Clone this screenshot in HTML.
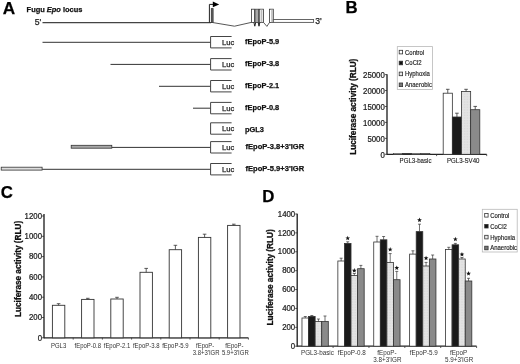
<!DOCTYPE html>
<html><head><meta charset="utf-8"><style>
html,body{margin:0;padding:0;background:#fff;}
body{width:520px;height:364px;overflow:hidden;}
svg{display:block;font-family:"Liberation Sans", sans-serif;will-change:transform;filter:blur(0.3px);}
</style></head><body>
<svg width="520" height="364" viewBox="0 0 520 364">
<defs><pattern id="dots" width="1.6" height="1.6" patternUnits="userSpaceOnUse"><rect width="1.6" height="1.6" fill="#e4e4e4"/><rect width="0.8" height="0.8" fill="#d8d8d8"/></pattern></defs>
<rect width="520" height="364" fill="#fff"/>
<text x="2.80" y="13.80" font-size="17.2" font-weight="bold" text-anchor="start" fill="#000"  stroke="#000" stroke-width="0.25">A</text>
<text x="26.6" y="12.4" font-size="7.45" font-weight="bold" fill="#111" stroke="#111" stroke-width="0.25">Fugu <tspan font-style="italic">Epo</tspan> locus</text>
<text x="34.80" y="25.30" font-size="8.6" text-anchor="start" fill="#222"  stroke="#222" stroke-width="0.25">5&#39;</text>
<line x1="42.5" y1="22.6" x2="211" y2="22.6" stroke="#444" stroke-width="1.2"/>
<polyline points="209.4,22.6 209.4,4.4 213.5,4.4" fill="none" stroke="#222" stroke-width="1"/>
<polygon points="212.8,1.4 219.2,4.4 212.8,7.3" fill="#000"/>
<rect x="211.3" y="8.6" width="1.8" height="14" fill="#666" stroke="#333" stroke-width="0.8"/>
<polyline points="213,22.6 234.5,26.2 251.3,22.4" fill="none" stroke="#444" stroke-width="0.9"/>
<rect x="251.4" y="9.2" width="3.0" height="13.4" fill="#fff" stroke="#333" stroke-width="0.8"/>
<rect x="255.0" y="9.2" width="3.6" height="13.4" fill="#a8a8a8" stroke="#444" stroke-width="0.8"/>
<rect x="259.3" y="9.2" width="4.2" height="13.4" fill="#fff" stroke="#333" stroke-width="0.8"/>
<rect x="260.6" y="9.6" width="1.8" height="12.6" fill="#bbb" stroke="none" stroke-width="0"/>
<polyline points="253.9,22.4 254.8,26.2 255.7,22.4" fill="none" stroke="#222" stroke-width="1"/>
<polyline points="258.2,22.4 259.0,26.2 259.8,22.4" fill="none" stroke="#222" stroke-width="1"/>
<polyline points="263.5,22.4 266.9,26.4 269.4,22.6" fill="none" stroke="#333" stroke-width="0.8"/>
<rect x="269.4" y="9.2" width="3.9" height="13.4" fill="#fff" stroke="#333" stroke-width="0.8"/>
<rect x="271.2" y="9.6" width="1.6" height="12.6" fill="#bbb" stroke="none" stroke-width="0"/>
<rect x="273.3" y="19.5" width="40.3" height="2.9" fill="#fff" stroke="#555" stroke-width="0.9"/>
<text x="315.20" y="24.40" font-size="8.6" text-anchor="start" fill="#222"  stroke="#222" stroke-width="0.25">3&#39;</text>
<line x1="42.5" y1="42.3" x2="210.6" y2="42.3" stroke="#333" stroke-width="1.0"/>
<polyline points="231.6,36.5 210.6,36.5 210.6,47.9 231.6,47.9" fill="none" stroke="#444" stroke-width="1"/>
<text x="222.00" y="44.80" font-size="7.6" text-anchor="start" fill="#222"  stroke="#222" stroke-width="0.25">Luc</text>
<text x="245.10" y="43.70" font-size="7.4" font-weight="bold" text-anchor="start" fill="#111"  stroke="#111" stroke-width="0.25">fEpoP-5.9</text>
<line x1="110.5" y1="64.4" x2="210.6" y2="64.4" stroke="#333" stroke-width="1.0"/>
<polyline points="231.6,58.6 210.6,58.6 210.6,70.0 231.6,70.0" fill="none" stroke="#444" stroke-width="1"/>
<text x="222.00" y="66.90" font-size="7.6" text-anchor="start" fill="#222"  stroke="#222" stroke-width="0.25">Luc</text>
<text x="245.10" y="65.80" font-size="7.4" font-weight="bold" text-anchor="start" fill="#111"  stroke="#111" stroke-width="0.25">fEpoP-3.8</text>
<line x1="159" y1="86.3" x2="210.6" y2="86.3" stroke="#333" stroke-width="1.0"/>
<polyline points="231.6,80.5 210.6,80.5 210.6,91.9 231.6,91.9" fill="none" stroke="#444" stroke-width="1"/>
<text x="222.00" y="88.80" font-size="7.6" text-anchor="start" fill="#222"  stroke="#222" stroke-width="0.25">Luc</text>
<text x="245.10" y="87.70" font-size="7.4" font-weight="bold" text-anchor="start" fill="#111"  stroke="#111" stroke-width="0.25">fEpoP-2.1</text>
<line x1="193" y1="108.2" x2="210.6" y2="108.2" stroke="#333" stroke-width="1.0"/>
<polyline points="231.6,102.4 210.6,102.4 210.6,113.8 231.6,113.8" fill="none" stroke="#444" stroke-width="1"/>
<text x="222.00" y="110.70" font-size="7.6" text-anchor="start" fill="#222"  stroke="#222" stroke-width="0.25">Luc</text>
<text x="245.10" y="109.60" font-size="7.4" font-weight="bold" text-anchor="start" fill="#111"  stroke="#111" stroke-width="0.25">fEpoP-0.8</text>
<polyline points="231.6,122.8 210.6,122.8 210.6,134.2 231.6,134.2" fill="none" stroke="#444" stroke-width="1"/>
<text x="222.00" y="131.10" font-size="7.6" text-anchor="start" fill="#222"  stroke="#222" stroke-width="0.25">Luc</text>
<text x="245.00" y="131.90" font-size="7.4" font-weight="bold" text-anchor="start" fill="#111"  stroke="#111" stroke-width="0.25">pGL3</text>
<line x1="111.8" y1="147.4" x2="210.6" y2="147.4" stroke="#333" stroke-width="1.0"/>
<polyline points="231.6,141.6 210.6,141.6 210.6,153.0 231.6,153.0" fill="none" stroke="#444" stroke-width="1"/>
<text x="222.00" y="149.90" font-size="7.6" text-anchor="start" fill="#222"  stroke="#222" stroke-width="0.25">Luc</text>
<text x="245.50" y="148.80" font-size="7.55" font-weight="bold" text-anchor="start" fill="#111"  stroke="#111" stroke-width="0.25">fEpoP-3.8+3&#39;IGR</text>
<rect x="71.2" y="145.3" width="40.599999999999994" height="2.9" fill="#a8a8a8" stroke="#333" stroke-width="0.8"/>
<line x1="42.1" y1="169.3" x2="210.6" y2="169.3" stroke="#333" stroke-width="1.0"/>
<polyline points="231.6,163.5 210.6,163.5 210.6,174.9 231.6,174.9" fill="none" stroke="#444" stroke-width="1"/>
<text x="222.00" y="171.80" font-size="7.6" text-anchor="start" fill="#222"  stroke="#222" stroke-width="0.25">Luc</text>
<text x="245.50" y="170.70" font-size="7.55" font-weight="bold" text-anchor="start" fill="#111"  stroke="#111" stroke-width="0.25">fEpoP-5.9+3&#39;IGR</text>
<rect x="1.2" y="167.20000000000002" width="40.9" height="2.9" fill="#ddd" stroke="#333" stroke-width="0.8"/>
<text x="345.60" y="13.40" font-size="16.8" font-weight="bold" text-anchor="start" fill="#000"  stroke="#000" stroke-width="0.25">B</text>
<rect x="397.3" y="46.6" width="35.2" height="42.8" fill="#fff" stroke="#b8b8b8" stroke-width="0.8"/>
<rect x="399.20000000000005" y="50.300000000000004" width="3.4" height="3.6" fill="#fff" stroke="#333" stroke-width="0.8"/>
<g transform="translate(405.00,54.50) scale(0.92,1)"><text x="0" y="0" font-size="6.5" text-anchor="start" fill="#222"  stroke="#222" stroke-width="0.15">Control</text></g>
<rect x="399.20000000000005" y="61.2" width="3.4" height="3.6" fill="#111" stroke="#333" stroke-width="0.8"/>
<g transform="translate(405.00,65.40) scale(0.92,1)"><text x="0" y="0" font-size="6.5" text-anchor="start" fill="#222"  stroke="#222" stroke-width="0.15">CoCl2</text></g>
<rect x="399.20000000000005" y="72.10000000000001" width="3.4" height="3.6" fill="#e8e8e8" stroke="#333" stroke-width="0.8"/>
<g transform="translate(405.00,76.30) scale(0.92,1)"><text x="0" y="0" font-size="6.5" text-anchor="start" fill="#222"  stroke="#222" stroke-width="0.15">Hyphoxia</text></g>
<rect x="399.20000000000005" y="83.00000000000001" width="3.4" height="3.6" fill="#777" stroke="#333" stroke-width="0.8"/>
<g transform="translate(405.00,87.20) scale(0.92,1)"><text x="0" y="0" font-size="6.5" text-anchor="start" fill="#222"  stroke="#222" stroke-width="0.15">Anaerobic</text></g>
<text transform="translate(352.6,106.7) rotate(-90) scale(0.965,1)" x="0" y="0" font-size="8.5" font-weight="bold" text-anchor="middle" fill="#111" stroke="#111" stroke-width="0.3" dy="0.36em">Luciferase activity (RLU)</text>
<line x1="385.0" y1="154.3" x2="387.0" y2="154.3" stroke="#333" stroke-width="0.8"/>
<g transform="translate(384.80,157.50) scale(0.93,1)"><text x="0" y="0" font-size="8.4" text-anchor="end" fill="#222"  stroke="#222" stroke-width="0.25">0</text></g>
<line x1="385.0" y1="138.36" x2="387.0" y2="138.36" stroke="#333" stroke-width="0.8"/>
<g transform="translate(384.80,141.56) scale(0.93,1)"><text x="0" y="0" font-size="8.4" text-anchor="end" fill="#222"  stroke="#222" stroke-width="0.25">5000</text></g>
<line x1="385.0" y1="122.42000000000002" x2="387.0" y2="122.42000000000002" stroke="#333" stroke-width="0.8"/>
<g transform="translate(384.80,125.62) scale(0.93,1)"><text x="0" y="0" font-size="8.4" text-anchor="end" fill="#222"  stroke="#222" stroke-width="0.25">10000</text></g>
<line x1="385.0" y1="106.48000000000002" x2="387.0" y2="106.48000000000002" stroke="#333" stroke-width="0.8"/>
<g transform="translate(384.80,109.68) scale(0.93,1)"><text x="0" y="0" font-size="8.4" text-anchor="end" fill="#222"  stroke="#222" stroke-width="0.25">15000</text></g>
<line x1="385.0" y1="90.54000000000002" x2="387.0" y2="90.54000000000002" stroke="#333" stroke-width="0.8"/>
<g transform="translate(384.80,93.74) scale(0.93,1)"><text x="0" y="0" font-size="8.4" text-anchor="end" fill="#222"  stroke="#222" stroke-width="0.25">20000</text></g>
<line x1="385.0" y1="74.60000000000002" x2="387.0" y2="74.60000000000002" stroke="#333" stroke-width="0.8"/>
<g transform="translate(384.80,77.80) scale(0.93,1)"><text x="0" y="0" font-size="8.4" text-anchor="end" fill="#222"  stroke="#222" stroke-width="0.25">25000</text></g>
<line x1="387.0" y1="74.3" x2="387.0" y2="154.8" stroke="#222" stroke-width="1.35"/>
<line x1="387.0" y1="154.3" x2="486.7" y2="154.3" stroke="#222" stroke-width="1.2"/>
<line x1="436.6" y1="154.3" x2="436.6" y2="156.10000000000002" stroke="#333" stroke-width="0.8"/>
<line x1="486.7" y1="154.3" x2="486.7" y2="156.10000000000002" stroke="#333" stroke-width="0.8"/>
<rect x="393.3" y="153.3" width="9.15" height="1" fill="#fff" stroke="#333" stroke-width="0.6"/>
<rect x="402.45" y="153.3" width="9.15" height="1" fill="#1a1a1a" stroke="#333" stroke-width="0.6"/>
<rect x="411.6" y="153.3" width="9.15" height="1" fill="url(#dots)" stroke="#333" stroke-width="0.6"/>
<rect x="420.75" y="153.3" width="9.15" height="1" fill="#8a8a8a" stroke="#333" stroke-width="0.6"/>
<rect x="443.2" y="93.2" width="9.15" height="61.10000000000001" fill="#fff" stroke="#333" stroke-width="0.8"/>
<line x1="447.775" y1="89.3" x2="447.775" y2="93.2" stroke="#333" stroke-width="0.8"/>
<line x1="445.97499999999997" y1="89.3" x2="449.575" y2="89.3" stroke="#333" stroke-width="0.8"/>
<rect x="452.34999999999997" y="117.0" width="9.15" height="37.30000000000001" fill="#1a1a1a" stroke="#333" stroke-width="0.8"/>
<line x1="456.92499999999995" y1="113.2" x2="456.92499999999995" y2="117.0" stroke="#333" stroke-width="0.8"/>
<line x1="455.12499999999994" y1="113.2" x2="458.72499999999997" y2="113.2" stroke="#333" stroke-width="0.8"/>
<rect x="461.5" y="91.4" width="9.15" height="62.900000000000006" fill="url(#dots)" stroke="#333" stroke-width="0.8"/>
<line x1="466.075" y1="89.3" x2="466.075" y2="91.4" stroke="#333" stroke-width="0.8"/>
<line x1="464.275" y1="89.3" x2="467.875" y2="89.3" stroke="#333" stroke-width="0.8"/>
<rect x="470.65" y="109.7" width="9.15" height="44.60000000000001" fill="#8a8a8a" stroke="#333" stroke-width="0.8"/>
<line x1="475.22499999999997" y1="106.4" x2="475.22499999999997" y2="109.7" stroke="#333" stroke-width="0.8"/>
<line x1="473.42499999999995" y1="106.4" x2="477.025" y2="106.4" stroke="#333" stroke-width="0.8"/>
<g transform="translate(415.50,162.60) scale(0.97,1)"><text x="0" y="0" font-size="6.3" text-anchor="middle" fill="#222"  stroke="#222" stroke-width="0.12">PGL3-basic</text></g>
<g transform="translate(463.20,162.60) scale(0.97,1)"><text x="0" y="0" font-size="6.3" text-anchor="middle" fill="#222"  stroke="#222" stroke-width="0.12">PGL3-SV40</text></g>
<text x="0.80" y="198.40" font-size="16.8" font-weight="bold" text-anchor="start" fill="#000"  stroke="#000" stroke-width="0.25">C</text>
<text transform="translate(17.8,268.9) rotate(-90) scale(0.965,1)" x="0" y="0" font-size="8.5" font-weight="bold" text-anchor="middle" fill="#111" stroke="#111" stroke-width="0.3" dy="0.36em">Luciferase activity (RLU)</text>
<line x1="42.0" y1="337.8" x2="44.0" y2="337.8" stroke="#333" stroke-width="0.8"/>
<g transform="translate(42.00,340.50) scale(0.93,1)"><text x="0" y="0" font-size="8.4" text-anchor="end" fill="#222"  stroke="#222" stroke-width="0.25">0</text></g>
<line x1="42.0" y1="317.5" x2="44.0" y2="317.5" stroke="#333" stroke-width="0.8"/>
<g transform="translate(42.00,320.20) scale(0.93,1)"><text x="0" y="0" font-size="8.4" text-anchor="end" fill="#222"  stroke="#222" stroke-width="0.25">200</text></g>
<line x1="42.0" y1="297.20000000000005" x2="44.0" y2="297.20000000000005" stroke="#333" stroke-width="0.8"/>
<g transform="translate(42.00,299.90) scale(0.93,1)"><text x="0" y="0" font-size="8.4" text-anchor="end" fill="#222"  stroke="#222" stroke-width="0.25">400</text></g>
<line x1="42.0" y1="276.90000000000003" x2="44.0" y2="276.90000000000003" stroke="#333" stroke-width="0.8"/>
<g transform="translate(42.00,279.60) scale(0.93,1)"><text x="0" y="0" font-size="8.4" text-anchor="end" fill="#222"  stroke="#222" stroke-width="0.25">600</text></g>
<line x1="42.0" y1="256.6" x2="44.0" y2="256.6" stroke="#333" stroke-width="0.8"/>
<g transform="translate(42.00,259.30) scale(0.93,1)"><text x="0" y="0" font-size="8.4" text-anchor="end" fill="#222"  stroke="#222" stroke-width="0.25">800</text></g>
<line x1="42.0" y1="236.3" x2="44.0" y2="236.3" stroke="#333" stroke-width="0.8"/>
<g transform="translate(42.00,239.00) scale(0.93,1)"><text x="0" y="0" font-size="8.4" text-anchor="end" fill="#222"  stroke="#222" stroke-width="0.25">1000</text></g>
<line x1="42.0" y1="216.00000000000006" x2="44.0" y2="216.00000000000006" stroke="#333" stroke-width="0.8"/>
<g transform="translate(42.00,218.70) scale(0.93,1)"><text x="0" y="0" font-size="8.4" text-anchor="end" fill="#222"  stroke="#222" stroke-width="0.25">1200</text></g>
<line x1="44.0" y1="214.0" x2="44.0" y2="338.3" stroke="#222" stroke-width="1.35"/>
<line x1="44.0" y1="337.8" x2="248.4" y2="337.8" stroke="#222" stroke-width="1.2"/>
<line x1="73.2" y1="337.8" x2="73.2" y2="339.6" stroke="#333" stroke-width="0.8"/>
<line x1="102.4" y1="337.8" x2="102.4" y2="339.6" stroke="#333" stroke-width="0.8"/>
<line x1="131.6" y1="337.8" x2="131.6" y2="339.6" stroke="#333" stroke-width="0.8"/>
<line x1="160.8" y1="337.8" x2="160.8" y2="339.6" stroke="#333" stroke-width="0.8"/>
<line x1="190.0" y1="337.8" x2="190.0" y2="339.6" stroke="#333" stroke-width="0.8"/>
<line x1="219.2" y1="337.8" x2="219.2" y2="339.6" stroke="#333" stroke-width="0.8"/>
<line x1="248.4" y1="337.8" x2="248.4" y2="339.6" stroke="#333" stroke-width="0.8"/>
<rect x="52.4" y="305.3" width="12.4" height="32.5" fill="#fff" stroke="#333" stroke-width="0.9"/>
<line x1="58.6" y1="303.7" x2="58.6" y2="305.3" stroke="#333" stroke-width="0.8"/>
<line x1="56.800000000000004" y1="303.7" x2="60.4" y2="303.7" stroke="#333" stroke-width="0.8"/>
<rect x="81.6" y="299.4" width="12.4" height="38.400000000000034" fill="#fff" stroke="#333" stroke-width="0.9"/>
<line x1="87.8" y1="298.3" x2="87.8" y2="299.4" stroke="#333" stroke-width="0.8"/>
<line x1="86.0" y1="298.3" x2="89.6" y2="298.3" stroke="#333" stroke-width="0.8"/>
<rect x="110.8" y="299.0" width="12.4" height="38.80000000000001" fill="#fff" stroke="#333" stroke-width="0.9"/>
<line x1="117.0" y1="297.3" x2="117.0" y2="299.0" stroke="#333" stroke-width="0.8"/>
<line x1="115.2" y1="297.3" x2="118.8" y2="297.3" stroke="#333" stroke-width="0.8"/>
<rect x="140.0" y="272.3" width="12.4" height="65.5" fill="#fff" stroke="#333" stroke-width="0.9"/>
<line x1="146.2" y1="268.4" x2="146.2" y2="272.3" stroke="#333" stroke-width="0.8"/>
<line x1="144.39999999999998" y1="268.4" x2="148.0" y2="268.4" stroke="#333" stroke-width="0.8"/>
<rect x="169.20000000000002" y="249.7" width="12.4" height="88.10000000000002" fill="#fff" stroke="#333" stroke-width="0.9"/>
<line x1="175.4" y1="245.3" x2="175.4" y2="249.7" stroke="#333" stroke-width="0.8"/>
<line x1="173.6" y1="245.3" x2="177.20000000000002" y2="245.3" stroke="#333" stroke-width="0.8"/>
<rect x="198.4" y="237.4" width="12.4" height="100.4" fill="#fff" stroke="#333" stroke-width="0.9"/>
<line x1="204.6" y1="234.2" x2="204.6" y2="237.4" stroke="#333" stroke-width="0.8"/>
<line x1="202.79999999999998" y1="234.2" x2="206.4" y2="234.2" stroke="#333" stroke-width="0.8"/>
<rect x="227.6" y="225.4" width="12.4" height="112.4" fill="#fff" stroke="#333" stroke-width="0.9"/>
<line x1="233.79999999999998" y1="224.2" x2="233.79999999999998" y2="225.4" stroke="#333" stroke-width="0.8"/>
<line x1="231.99999999999997" y1="224.2" x2="235.6" y2="224.2" stroke="#333" stroke-width="0.8"/>
<g transform="translate(58.60,347.60) scale(0.95,1)"><text x="0" y="0" font-size="6.3" text-anchor="middle" fill="#333" >PGL3</text></g>
<g transform="translate(87.80,347.60) scale(0.95,1)"><text x="0" y="0" font-size="6.3" text-anchor="middle" fill="#333" >fEpoP-0.8</text></g>
<g transform="translate(117.00,347.60) scale(0.95,1)"><text x="0" y="0" font-size="6.3" text-anchor="middle" fill="#333" >fEpoP-2.1</text></g>
<g transform="translate(146.20,347.60) scale(0.95,1)"><text x="0" y="0" font-size="6.3" text-anchor="middle" fill="#333" >fEpoP-3.8</text></g>
<g transform="translate(175.40,347.60) scale(0.95,1)"><text x="0" y="0" font-size="6.3" text-anchor="middle" fill="#333" >fEpoP-5.9</text></g>
<g transform="translate(205.20,347.60) scale(0.95,1)"><text x="0" y="0" font-size="6.3" text-anchor="middle" fill="#333" >fEpoP-</text></g>
<g transform="translate(206.10,355.10) scale(0.95,1)"><text x="0" y="0" font-size="6.3" text-anchor="middle" fill="#333" >3.8+3&#39;IGR</text></g>
<g transform="translate(234.40,347.60) scale(0.95,1)"><text x="0" y="0" font-size="6.3" text-anchor="middle" fill="#333" >fEpoP-</text></g>
<g transform="translate(235.30,355.10) scale(0.95,1)"><text x="0" y="0" font-size="6.3" text-anchor="middle" fill="#333" >5.9+3&#39;IGR</text></g>
<text x="262.30" y="201.60" font-size="16.8" font-weight="bold" text-anchor="start" fill="#000"  stroke="#000" stroke-width="0.25">D</text>
<rect x="482.3" y="209.3" width="34.9" height="42.7" fill="#fff" stroke="#b8b8b8" stroke-width="0.8"/>
<rect x="484.70000000000005" y="213.5" width="3.4" height="3.6" fill="#fff" stroke="#333" stroke-width="0.8"/>
<g transform="translate(490.20,217.70) scale(0.92,1)"><text x="0" y="0" font-size="6.5" text-anchor="start" fill="#222"  stroke="#222" stroke-width="0.15">Control</text></g>
<rect x="484.70000000000005" y="224.4" width="3.4" height="3.6" fill="#111" stroke="#333" stroke-width="0.8"/>
<g transform="translate(490.20,228.60) scale(0.92,1)"><text x="0" y="0" font-size="6.5" text-anchor="start" fill="#222"  stroke="#222" stroke-width="0.15">CoCl2</text></g>
<rect x="484.70000000000005" y="235.3" width="3.4" height="3.6" fill="#e8e8e8" stroke="#333" stroke-width="0.8"/>
<g transform="translate(490.20,239.50) scale(0.92,1)"><text x="0" y="0" font-size="6.5" text-anchor="start" fill="#222"  stroke="#222" stroke-width="0.15">Hyphoxia</text></g>
<rect x="484.70000000000005" y="246.2" width="3.4" height="3.6" fill="#777" stroke="#333" stroke-width="0.8"/>
<g transform="translate(490.20,250.40) scale(0.92,1)"><text x="0" y="0" font-size="6.5" text-anchor="start" fill="#222"  stroke="#222" stroke-width="0.15">Anaerobic</text></g>
<text transform="translate(269.6,277.4) rotate(-90) scale(0.965,1)" x="0" y="0" font-size="8.5" font-weight="bold" text-anchor="middle" fill="#111" stroke="#111" stroke-width="0.3" dy="0.36em">Luciferase activity (RLU)</text>
<line x1="295.2" y1="346.2" x2="297.2" y2="346.2" stroke="#333" stroke-width="0.8"/>
<g transform="translate(295.20,348.90) scale(0.93,1)"><text x="0" y="0" font-size="8.4" text-anchor="end" fill="#222"  stroke="#222" stroke-width="0.25">0</text></g>
<line x1="295.2" y1="327.3142857142857" x2="297.2" y2="327.3142857142857" stroke="#333" stroke-width="0.8"/>
<g transform="translate(295.20,330.01) scale(0.93,1)"><text x="0" y="0" font-size="8.4" text-anchor="end" fill="#222"  stroke="#222" stroke-width="0.25">200</text></g>
<line x1="295.2" y1="308.42857142857144" x2="297.2" y2="308.42857142857144" stroke="#333" stroke-width="0.8"/>
<g transform="translate(295.20,311.13) scale(0.93,1)"><text x="0" y="0" font-size="8.4" text-anchor="end" fill="#222"  stroke="#222" stroke-width="0.25">400</text></g>
<line x1="295.2" y1="289.54285714285714" x2="297.2" y2="289.54285714285714" stroke="#333" stroke-width="0.8"/>
<g transform="translate(295.20,292.24) scale(0.93,1)"><text x="0" y="0" font-size="8.4" text-anchor="end" fill="#222"  stroke="#222" stroke-width="0.25">600</text></g>
<line x1="295.2" y1="270.65714285714284" x2="297.2" y2="270.65714285714284" stroke="#333" stroke-width="0.8"/>
<g transform="translate(295.20,273.36) scale(0.93,1)"><text x="0" y="0" font-size="8.4" text-anchor="end" fill="#222"  stroke="#222" stroke-width="0.25">800</text></g>
<line x1="295.2" y1="251.77142857142857" x2="297.2" y2="251.77142857142857" stroke="#333" stroke-width="0.8"/>
<g transform="translate(295.20,254.47) scale(0.93,1)"><text x="0" y="0" font-size="8.4" text-anchor="end" fill="#222"  stroke="#222" stroke-width="0.25">1000</text></g>
<line x1="295.2" y1="232.8857142857143" x2="297.2" y2="232.8857142857143" stroke="#333" stroke-width="0.8"/>
<g transform="translate(295.20,235.59) scale(0.93,1)"><text x="0" y="0" font-size="8.4" text-anchor="end" fill="#222"  stroke="#222" stroke-width="0.25">1200</text></g>
<line x1="295.2" y1="214.0" x2="297.2" y2="214.0" stroke="#333" stroke-width="0.8"/>
<g transform="translate(295.20,216.70) scale(0.93,1)"><text x="0" y="0" font-size="8.4" text-anchor="end" fill="#222"  stroke="#222" stroke-width="0.25">1400</text></g>
<line x1="297.2" y1="213.8" x2="297.2" y2="346.7" stroke="#222" stroke-width="1.35"/>
<line x1="297.2" y1="346.2" x2="476.6" y2="346.2" stroke="#222" stroke-width="1.2"/>
<line x1="333.08" y1="346.2" x2="333.08" y2="348.0" stroke="#333" stroke-width="0.8"/>
<line x1="368.96000000000004" y1="346.2" x2="368.96000000000004" y2="348.0" stroke="#333" stroke-width="0.8"/>
<line x1="404.84000000000003" y1="346.2" x2="404.84000000000003" y2="348.0" stroke="#333" stroke-width="0.8"/>
<line x1="440.72" y1="346.2" x2="440.72" y2="348.0" stroke="#333" stroke-width="0.8"/>
<line x1="476.6" y1="346.2" x2="476.6" y2="348.0" stroke="#333" stroke-width="0.8"/>
<rect x="301.97999999999996" y="318.0" width="6.58" height="28.19999999999999" fill="#fff" stroke="#333" stroke-width="0.8"/>
<line x1="305.27" y1="316.5" x2="305.27" y2="318.0" stroke="#333" stroke-width="0.7"/>
<line x1="303.77" y1="316.5" x2="306.77" y2="316.5" stroke="#333" stroke-width="0.7"/>
<rect x="308.55999999999995" y="316.4" width="6.58" height="29.80000000000001" fill="#1a1a1a" stroke="#333" stroke-width="0.8"/>
<line x1="311.84999999999997" y1="315.5" x2="311.84999999999997" y2="316.4" stroke="#333" stroke-width="0.7"/>
<line x1="310.34999999999997" y1="315.5" x2="313.34999999999997" y2="315.5" stroke="#333" stroke-width="0.7"/>
<rect x="315.14" y="321.5" width="6.58" height="24.69999999999999" fill="url(#dots)" stroke="#333" stroke-width="0.8"/>
<line x1="318.43" y1="319.0" x2="318.43" y2="321.5" stroke="#333" stroke-width="0.7"/>
<line x1="316.93" y1="319.0" x2="319.93" y2="319.0" stroke="#333" stroke-width="0.7"/>
<rect x="321.71999999999997" y="321.5" width="6.58" height="24.69999999999999" fill="#8a8a8a" stroke="#333" stroke-width="0.8"/>
<line x1="325.01" y1="316.0" x2="325.01" y2="321.5" stroke="#333" stroke-width="0.7"/>
<line x1="323.51" y1="316.0" x2="326.51" y2="316.0" stroke="#333" stroke-width="0.7"/>
<rect x="337.85999999999996" y="261.0" width="6.58" height="85.19999999999999" fill="#fff" stroke="#333" stroke-width="0.8"/>
<line x1="341.15" y1="258.2" x2="341.15" y2="261.0" stroke="#333" stroke-width="0.7"/>
<line x1="339.65" y1="258.2" x2="342.65" y2="258.2" stroke="#333" stroke-width="0.7"/>
<rect x="344.43999999999994" y="243.4" width="6.58" height="102.79999999999998" fill="#1a1a1a" stroke="#333" stroke-width="0.8"/>
<line x1="347.72999999999996" y1="241.8" x2="347.72999999999996" y2="243.4" stroke="#333" stroke-width="0.7"/>
<line x1="346.22999999999996" y1="241.8" x2="349.22999999999996" y2="241.8" stroke="#333" stroke-width="0.7"/>
<polygon points="347.73,235.80 348.35,237.45 350.11,237.53 348.73,238.62 349.20,240.32 347.73,239.35 346.26,240.32 346.73,238.62 345.35,237.53 347.11,237.45" fill="#111"/>
<rect x="351.02" y="275.5" width="6.58" height="70.69999999999999" fill="url(#dots)" stroke="#333" stroke-width="0.8"/>
<line x1="354.31" y1="273.5" x2="354.31" y2="275.5" stroke="#333" stroke-width="0.7"/>
<line x1="352.81" y1="273.5" x2="355.81" y2="273.5" stroke="#333" stroke-width="0.7"/>
<polygon points="354.31,268.10 354.93,269.75 356.69,269.83 355.31,270.92 355.78,272.62 354.31,271.65 352.84,272.62 353.31,270.92 351.93,269.83 353.69,269.75" fill="#111"/>
<rect x="357.59999999999997" y="268.7" width="6.58" height="77.5" fill="#8a8a8a" stroke="#333" stroke-width="0.8"/>
<line x1="360.89" y1="265.4" x2="360.89" y2="268.7" stroke="#333" stroke-width="0.7"/>
<line x1="359.39" y1="265.4" x2="362.39" y2="265.4" stroke="#333" stroke-width="0.7"/>
<rect x="373.73999999999995" y="242.0" width="6.58" height="104.19999999999999" fill="#fff" stroke="#333" stroke-width="0.8"/>
<line x1="377.03" y1="236.3" x2="377.03" y2="242.0" stroke="#333" stroke-width="0.7"/>
<line x1="375.53" y1="236.3" x2="378.53" y2="236.3" stroke="#333" stroke-width="0.7"/>
<rect x="380.31999999999994" y="239.8" width="6.58" height="106.39999999999998" fill="#1a1a1a" stroke="#333" stroke-width="0.8"/>
<line x1="383.60999999999996" y1="236.5" x2="383.60999999999996" y2="239.8" stroke="#333" stroke-width="0.7"/>
<line x1="382.10999999999996" y1="236.5" x2="385.10999999999996" y2="236.5" stroke="#333" stroke-width="0.7"/>
<rect x="386.9" y="262.4" width="6.58" height="83.80000000000001" fill="url(#dots)" stroke="#333" stroke-width="0.8"/>
<line x1="390.19" y1="253.6" x2="390.19" y2="262.4" stroke="#333" stroke-width="0.7"/>
<line x1="388.69" y1="253.6" x2="391.69" y2="253.6" stroke="#333" stroke-width="0.7"/>
<polygon points="390.19,247.00 390.81,248.65 392.57,248.73 391.19,249.82 391.66,251.52 390.19,250.55 388.72,251.52 389.19,249.82 387.81,248.73 389.57,248.65" fill="#111"/>
<rect x="393.47999999999996" y="279.7" width="6.58" height="66.5" fill="#8a8a8a" stroke="#333" stroke-width="0.8"/>
<line x1="396.77" y1="271.4" x2="396.77" y2="279.7" stroke="#333" stroke-width="0.7"/>
<line x1="395.27" y1="271.4" x2="398.27" y2="271.4" stroke="#333" stroke-width="0.7"/>
<polygon points="396.77,265.40 397.39,267.05 399.15,267.13 397.77,268.22 398.24,269.92 396.77,268.95 395.30,269.92 395.77,268.22 394.39,267.13 396.15,267.05" fill="#111"/>
<rect x="409.62" y="254.1" width="6.58" height="92.1" fill="#fff" stroke="#333" stroke-width="0.8"/>
<line x1="412.91" y1="250.8" x2="412.91" y2="254.1" stroke="#333" stroke-width="0.7"/>
<line x1="411.41" y1="250.8" x2="414.41" y2="250.8" stroke="#333" stroke-width="0.7"/>
<rect x="416.2" y="231.6" width="6.58" height="114.6" fill="#1a1a1a" stroke="#333" stroke-width="0.8"/>
<line x1="419.49" y1="224.2" x2="419.49" y2="231.6" stroke="#333" stroke-width="0.7"/>
<line x1="417.99" y1="224.2" x2="420.99" y2="224.2" stroke="#333" stroke-width="0.7"/>
<polygon points="419.49,217.60 420.11,219.25 421.87,219.33 420.49,220.42 420.96,222.12 419.49,221.15 418.02,222.12 418.49,220.42 417.11,219.33 418.87,219.25" fill="#111"/>
<rect x="422.78000000000003" y="266.0" width="6.58" height="80.19999999999999" fill="url(#dots)" stroke="#333" stroke-width="0.8"/>
<line x1="426.07000000000005" y1="262.4" x2="426.07000000000005" y2="266.0" stroke="#333" stroke-width="0.7"/>
<line x1="424.57000000000005" y1="262.4" x2="427.57000000000005" y2="262.4" stroke="#333" stroke-width="0.7"/>
<polygon points="426.07,255.70 426.69,257.35 428.45,257.43 427.07,258.52 427.54,260.22 426.07,259.25 424.60,260.22 425.07,258.52 423.69,257.43 425.45,257.35" fill="#111"/>
<rect x="429.36" y="259.0" width="6.58" height="87.19999999999999" fill="#8a8a8a" stroke="#333" stroke-width="0.8"/>
<line x1="432.65000000000003" y1="255.0" x2="432.65000000000003" y2="259.0" stroke="#333" stroke-width="0.7"/>
<line x1="431.15000000000003" y1="255.0" x2="434.15000000000003" y2="255.0" stroke="#333" stroke-width="0.7"/>
<rect x="445.5" y="249.5" width="6.58" height="96.69999999999999" fill="#fff" stroke="#333" stroke-width="0.8"/>
<line x1="448.79" y1="247.3" x2="448.79" y2="249.5" stroke="#333" stroke-width="0.7"/>
<line x1="447.29" y1="247.3" x2="450.29" y2="247.3" stroke="#333" stroke-width="0.7"/>
<rect x="452.08" y="244.8" width="6.58" height="101.39999999999998" fill="#1a1a1a" stroke="#333" stroke-width="0.8"/>
<line x1="455.37" y1="243.4" x2="455.37" y2="244.8" stroke="#333" stroke-width="0.7"/>
<line x1="453.87" y1="243.4" x2="456.87" y2="243.4" stroke="#333" stroke-width="0.7"/>
<polygon points="455.37,236.80 455.99,238.45 457.75,238.53 456.37,239.62 456.84,241.32 455.37,240.35 453.90,241.32 454.37,239.62 452.99,238.53 454.75,238.45" fill="#111"/>
<rect x="458.66" y="259.0" width="6.58" height="87.19999999999999" fill="url(#dots)" stroke="#333" stroke-width="0.8"/>
<line x1="461.95000000000005" y1="257.5" x2="461.95000000000005" y2="259.0" stroke="#333" stroke-width="0.7"/>
<line x1="460.45000000000005" y1="257.5" x2="463.45000000000005" y2="257.5" stroke="#333" stroke-width="0.7"/>
<polygon points="461.95,251.90 462.57,253.55 464.33,253.63 462.95,254.72 463.42,256.42 461.95,255.45 460.48,256.42 460.95,254.72 459.57,253.63 461.33,253.55" fill="#111"/>
<rect x="465.24" y="281.0" width="6.58" height="65.19999999999999" fill="#8a8a8a" stroke="#333" stroke-width="0.8"/>
<line x1="468.53000000000003" y1="278.3" x2="468.53000000000003" y2="281.0" stroke="#333" stroke-width="0.7"/>
<line x1="467.03000000000003" y1="278.3" x2="470.03000000000003" y2="278.3" stroke="#333" stroke-width="0.7"/>
<polygon points="468.53,271.10 469.15,272.75 470.91,272.83 469.53,273.92 470.00,275.62 468.53,274.65 467.06,275.62 467.53,273.92 466.15,272.83 467.91,272.75" fill="#111"/>
<text x="317.44" y="354.60" font-size="6.3" text-anchor="middle" fill="#333" >PGL3-basic</text>
<text x="351.82" y="354.60" font-size="6.3" text-anchor="middle" fill="#333" >fEpoP-0.8</text>
<text x="386.90" y="354.60" font-size="6.3" text-anchor="middle" fill="#333" >fEpoP-</text>
<text x="387.40" y="362.00" font-size="6.3" text-anchor="middle" fill="#333" >3.8+3&#39;IGR</text>
<text x="423.78" y="354.60" font-size="6.3" text-anchor="middle" fill="#333" >fEpoP-5.9</text>
<text x="458.66" y="354.60" font-size="6.3" text-anchor="middle" fill="#333" >fEpoP</text>
<text x="459.16" y="362.00" font-size="6.3" text-anchor="middle" fill="#333" >5.9+3&#39;IGR</text>
</svg>
</body></html>
